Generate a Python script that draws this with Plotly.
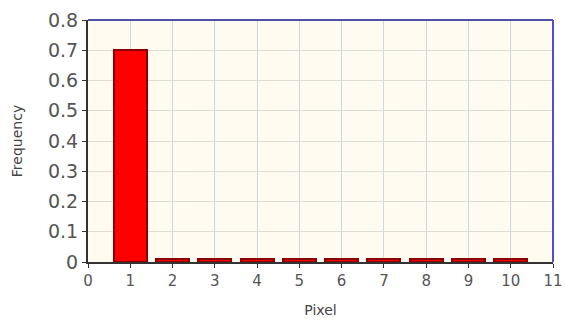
import plotly.graph_objects as go

pixels = [1, 2, 3, 4, 5, 6, 7, 8, 9, 10]
frequency = [0.70, 0.01, 0.01, 0.01, 0.01, 0.01, 0.01, 0.01, 0.01, 0.01]
x_ticks = list(range(0, 12))
y_ticks = [0, 0.1, 0.2, 0.3, 0.4, 0.5, 0.6, 0.7, 0.8]
y_tick_labels = ["0", "0.1", "0.2", "0.3", "0.4", "0.5", "0.6", "0.7", "0.8"]

fig = go.Figure()
fig.add_trace(go.Bar(
    x=pixels, y=frequency, width=0.78,
    marker=dict(color="#ff0000", line=dict(color="#8b0000", width=2)),
))

font = dict(family="DejaVu Sans, Liberation Sans, sans-serif", size=14, color="#555555")

fig.update_layout(
    width=565, height=324,
    margin=dict(l=88, r=12, t=20, b=62, autoexpand=False),
    paper_bgcolor="white",
    plot_bgcolor="#fffbf0",
    showlegend=False,
    font=font,
    bargap=0,
    xaxis=dict(
        range=[0, 11], tickvals=x_ticks, ticktext=[str(v) for v in x_ticks],
        showgrid=True, gridcolor="#c8dce0", gridwidth=1,
        showline=True, linecolor="#333333", linewidth=2,
        ticks="outside", ticklen=4, tickcolor="#333333",
        title=dict(text="Pixel", font=dict(size=14, color="#444444"), standoff=16),
        zeroline=False, tickfont=dict(size=15, color="#555555"),
        automargin=False,
    ),
    yaxis=dict(
        range=[0, 0.8], tickvals=y_ticks, ticktext=y_tick_labels,
        showgrid=True, gridcolor="#dcdcd0", gridwidth=1,
        showline=True, linecolor="#333333", linewidth=2,
        ticks="outside", ticklen=4, tickcolor="#333333",
        title=dict(text="Frequency", font=dict(size=14, color="#444444"), standoff=22),
        zeroline=False, tickfont=dict(size=19, color="#555555"),
        automargin=False,
    ),
    shapes=[
        dict(type="line", xref="paper", yref="paper", x0=0, x1=1, y0=1, y1=1,
             line=dict(color="#5050a8", width=2)),
        dict(type="line", xref="paper", yref="paper", x0=1, x1=1, y0=0, y1=1,
             line=dict(color="#5050c8", width=2)),
    ],
)

fig.write_html(
    "out.html",
    config={"displayModeBar": False},
    post_script="document.body.style.margin='0';document.body.style.overflow='hidden';",
)
